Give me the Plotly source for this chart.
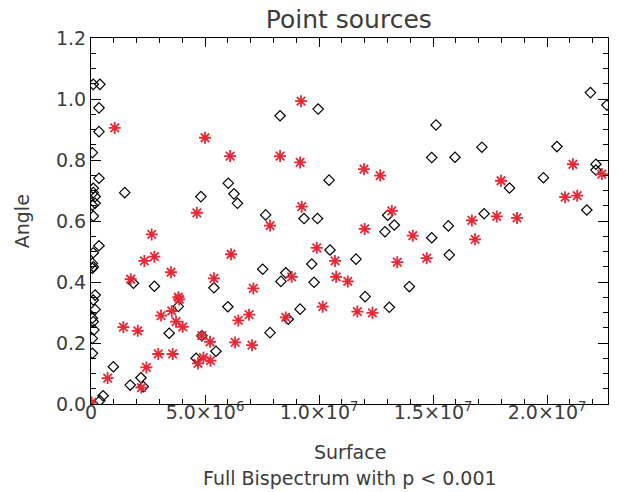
import plotly.graph_objects as go

# Surface values in units of 1e6, angle values
diamond_surface_e6 = [0.10, 0.39, 0.35, 0.35, 0.06, 0.35, 0.10, 0.10, 0.18, 0.18, 0.06, 0.10,
                      0.35, 0.10, 0.06, 0.10, 0.06, 0.18, 0.10, 0.18, 0.06, 0.10, 0.13, 0.06,
                      0.06, 0.53, 0.39, 1.48, 0.98, 1.72, 2.19, 2.29, 1.86, 2.78, 3.43, 3.83,
                      4.61, 4.82, 4.86, 5.39, 5.48, 6.00, 6.02, 6.27, 6.42, 7.53, 7.66, 7.85,
                      8.29, 8.33, 8.54, 8.65, 9.17, 9.34, 9.68, 9.78, 9.93, 9.96, 10.44, 10.48,
                      11.62, 12.02, 12.89, 13.01, 13.08, 13.30, 13.96, 14.94, 14.94, 15.13, 15.67,
                      15.71, 15.96, 17.14, 17.24, 18.35, 19.84, 20.43, 21.74, 21.90, 22.14, 22.14,
                      22.62]
diamond_angle = [1.048, 1.048, 0.971, 0.893, 0.824, 0.740, 0.707, 0.693, 0.680, 0.658, 0.652, 0.616,
                 0.519, 0.496, 0.461, 0.450, 0.445, 0.357, 0.341, 0.310, 0.281, 0.270, 0.243, 0.215,
                 0.166, 0.027, 0.011, 0.693, 0.122, 0.062, 0.086, 0.057, 0.396, 0.386, 0.232, 0.320,
                 0.150, 0.680, 0.224, 0.381, 0.173, 0.319, 0.724, 0.689, 0.658, 0.442, 0.620, 0.234,
                 0.945, 0.402, 0.430, 0.278, 0.311, 0.608, 0.459, 0.399, 0.608, 0.967, 0.734, 0.505,
                 0.475, 0.352, 0.565, 0.619, 0.317, 0.587, 0.385, 0.808, 0.545, 0.915, 0.584,
                 0.489, 0.809, 0.842, 0.624, 0.708, 0.742, 0.844, 0.636, 1.021, 0.786, 0.767,
                 0.980]

star_surface_e6 = [0.03, 0.73, 1.04, 1.42, 1.74, 2.05, 2.21, 2.34, 2.43, 2.66, 2.78, 2.95, 3.07,
                   3.51, 3.54, 3.58, 3.73, 3.83, 3.87, 4.02, 4.64, 4.69, 4.86, 4.93, 5.00, 5.22,
                   5.24, 5.39, 6.10, 6.14, 6.32, 6.46, 6.93, 7.06, 7.12, 7.85, 8.29, 8.54, 8.80,
                   9.17, 9.21, 9.24, 9.90, 10.16, 10.70, 10.75, 11.26, 11.68, 11.97, 12.00, 12.34,
                   12.68, 13.19, 13.43, 14.11, 14.72, 16.70, 16.84, 17.79, 17.98, 18.68, 20.79,
                   21.13, 21.32, 22.40]
star_angle = [0.005, 0.085, 0.905, 0.252, 0.409, 0.240, 0.054, 0.469, 0.120, 0.556, 0.483, 0.164, 0.290,
              0.432, 0.305, 0.164, 0.270, 0.350, 0.343, 0.253, 0.627, 0.133, 0.224, 0.152, 0.873, 0.204,
              0.142, 0.412, 0.813, 0.491, 0.202, 0.274, 0.293, 0.193, 0.379, 0.585, 0.813, 0.284, 0.417,
              0.792, 0.993, 0.647, 0.512, 0.319, 0.469, 0.417, 0.402, 0.303, 0.770, 0.574, 0.299,
              0.749, 0.633, 0.465, 0.552, 0.478, 0.602, 0.540, 0.615, 0.732, 0.610, 0.678,
              0.786, 0.683, 0.754]

x_tick_vals = [0, 5.0e6, 1.0e7, 1.5e7, 2.0e7]
x_tick_text = ["0", "5.0×10<sup>6</sup>", "1.0×10<sup>7</sup>", "1.5×10<sup>7</sup>", "2.0×10<sup>7</sup>"]
y_tick_vals = [0.0, 0.2, 0.4, 0.6, 0.8, 1.0, 1.2]
y_tick_text = ["0.0", "0.2", "0.4", "0.6", "0.8", "1.0", "1.2"]

FONT = "DejaVu Sans, sans-serif"
TXT = "#3c3c3c"
RED = "rgb(232,40,55)"

fig = go.Figure()
fig.add_trace(go.Scatter(
    x=[v * 1e6 for v in diamond_surface_e6], y=diamond_angle, mode="markers",
    marker=dict(symbol="diamond-open", size=8, color="black", line=dict(width=1.2, color="black")),
    showlegend=False))
fig.add_trace(go.Scatter(
    x=[v * 1e6 for v in star_surface_e6], y=star_angle, mode="markers",
    marker=dict(symbol="asterisk-open", size=10, color=RED, line=dict(width=1.8, color=RED)),
    showlegend=False))

axis_common = dict(showgrid=False, zeroline=False, showline=True, linecolor="black", linewidth=1,
                   mirror="ticks", ticks="inside", tickcolor="black", tickwidth=1, automargin=False,
                   tickfont=dict(family=FONT, size=19, color=TXT))

fig.update_xaxes(range=[0, 2.267e7], tickvals=x_tick_vals, ticktext=x_tick_text, ticklen=9,
                 ticklabelstandoff=-9,
                 minor=dict(dtick=1e6, tick0=0, ticks="inside", ticklen=5, tickcolor="black"),
                 **axis_common)
fig.update_yaxes(range=[0, 1.2], tickvals=y_tick_vals, ticktext=y_tick_text, ticklen=10,
                 minor=dict(dtick=0.05, tick0=0, ticks="inside", ticklen=5, tickcolor="black"),
                 **axis_common)

# page body adds an 8px offset, so the figure is sized/margined to compensate
fig.update_layout(
    width=613, height=484,
    margin=dict(l=83, r=13, t=30, b=88, autoexpand=False),
    paper_bgcolor="white", plot_bgcolor="white",
    font=dict(family=FONT, color=TXT),
    title=dict(text="Point sources", x=0.556, xanchor="center", y=0.977, yanchor="middle",
               font=dict(family=FONT, size=25, color=TXT)),
    annotations=[
        dict(text="Surface", xref="paper", yref="paper", x=0.5, y=-0.131, xanchor="center",
             yanchor="middle", showarrow=False, font=dict(family=FONT, size=19, color=TXT)),
        dict(text="Full Bispectrum with p < 0.001", xref="paper", yref="paper", x=0.5, y=-0.202,
             xanchor="center", yanchor="middle", showarrow=False,
             font=dict(family=FONT, size=19, color=TXT)),
        dict(text="Angle", xref="paper", yref="paper", x=-0.133, y=0.5, xanchor="center",
             yanchor="middle", textangle=-90, showarrow=False,
             font=dict(family=FONT, size=19, color=TXT)),
    ],
)

fig.write_html("out.html")
